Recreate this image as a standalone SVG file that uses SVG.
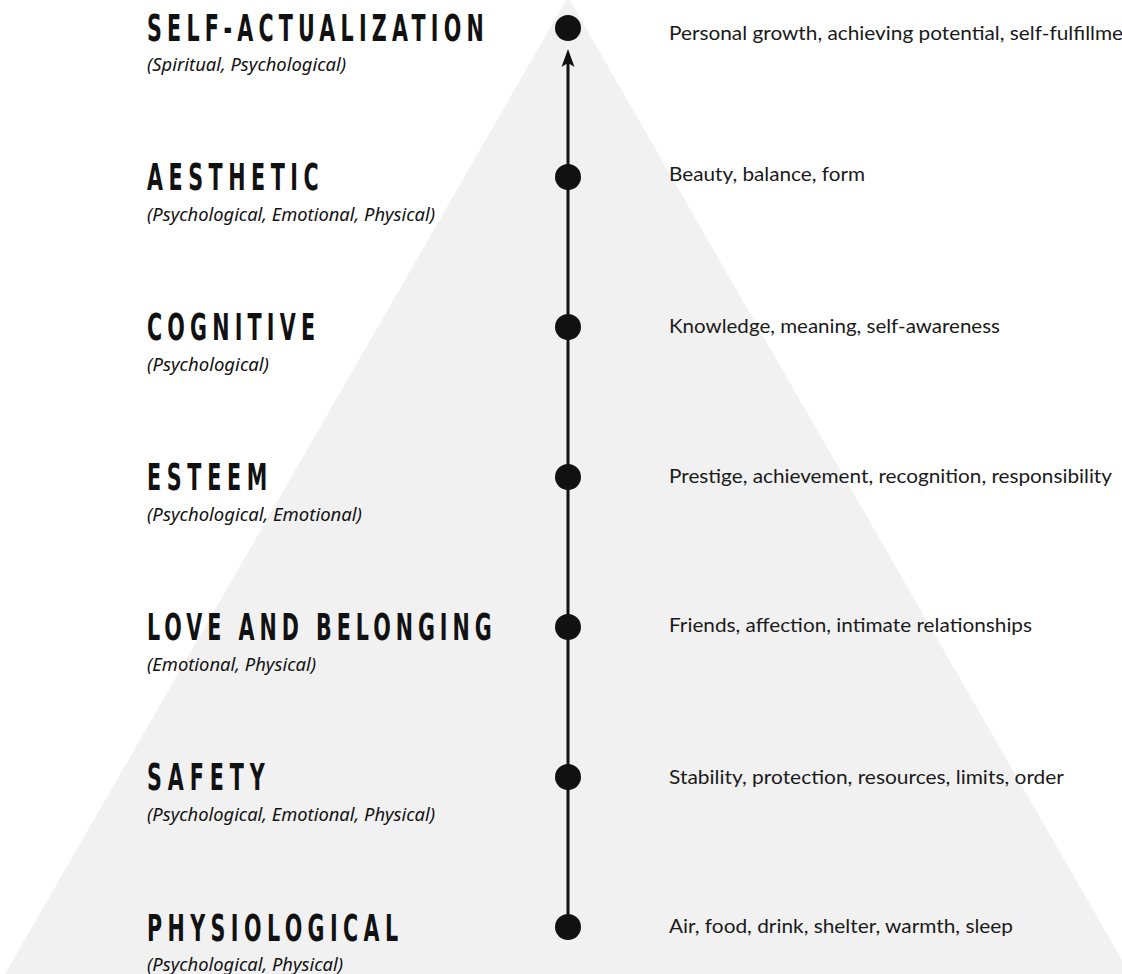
<svg xmlns="http://www.w3.org/2000/svg" width="1122" height="974" viewBox="0 0 1122 974">
<style>
.t{font-family:"DejaVu Sans Condensed","DejaVu Sans",sans-serif;font-weight:bold;font-size:37px;fill:#111}
.s{font-family:"Noto Sans","Open Sans",sans-serif;font-style:italic;font-size:18px;fill:#111}
.d{font-family:Lato,"Open Sans",sans-serif;font-size:20px;fill:#1a1a1a}
.dot{fill:#111}
</style>
<rect width="1122" height="974" fill="#ffffff"/>
<polygon points="568,-3 5,974 1130,974" fill="#f1f1f1"/>
<g id="connectors">
<line x1="568" y1="927" x2="568" y2="60" stroke="#111" stroke-width="3"/>
<polygon points="568,49 574.5,67 568,63 561.5,67" fill="#111"/>
</g>
<g id="self-actualization">
<circle class="dot" cx="568" cy="28" r="13"/>
<text class="t" transform="translate(147 41) scale(0.62 1)" textLength="543" lengthAdjust="spacing">SELF-ACTUALIZATION</text>
<text class="s" x="147" y="71" textLength="199" lengthAdjust="spacingAndGlyphs">(Spiritual, Psychological)</text>
<text class="d" x="669" y="40" textLength="473" lengthAdjust="spacingAndGlyphs">Personal growth, achieving potential, self-fulfillment</text>
</g>
<g id="aesthetic">
<circle class="dot" cx="568" cy="177" r="13"/>
<text class="t" transform="translate(147 190) scale(0.62 1)" textLength="277" lengthAdjust="spacing">AESTHETIC</text>
<text class="s" x="147" y="221" textLength="288" lengthAdjust="spacingAndGlyphs">(Psychological, Emotional, Physical)</text>
<text class="d" x="669" y="181" textLength="196" lengthAdjust="spacingAndGlyphs">Beauty, balance, form</text>
</g>
<g id="cognitive">
<circle class="dot" cx="568" cy="327" r="13"/>
<text class="t" transform="translate(147 340) scale(0.62 1)" textLength="271" lengthAdjust="spacing">COGNITIVE</text>
<text class="s" x="147" y="371" textLength="122" lengthAdjust="spacingAndGlyphs">(Psychological)</text>
<text class="d" x="669" y="333" textLength="331" lengthAdjust="spacingAndGlyphs">Knowledge, meaning, self-awareness</text>
</g>
<g id="esteem">
<circle class="dot" cx="568" cy="477" r="13"/>
<text class="t" transform="translate(147 490) scale(0.62 1)" textLength="194" lengthAdjust="spacing">ESTEEM</text>
<text class="s" x="147" y="521" textLength="215" lengthAdjust="spacingAndGlyphs">(Psychological, Emotional)</text>
<text class="d" x="669" y="483" textLength="443" lengthAdjust="spacingAndGlyphs">Prestige, achievement, recognition, responsibility</text>
</g>
<g id="love-and-belonging">
<circle class="dot" cx="568" cy="627" r="13"/>
<text class="t" transform="translate(147 640) scale(0.62 1)" textLength="556" lengthAdjust="spacing">LOVE AND BELONGING</text>
<text class="s" x="147" y="671" textLength="169" lengthAdjust="spacingAndGlyphs">(Emotional, Physical)</text>
<text class="d" x="669" y="632" textLength="363" lengthAdjust="spacingAndGlyphs">Friends, affection, intimate relationships</text>
</g>
<g id="safety">
<circle class="dot" cx="568" cy="777" r="13"/>
<text class="t" transform="translate(147 790) scale(0.62 1)" textLength="190" lengthAdjust="spacing">SAFETY</text>
<text class="s" x="147" y="821" textLength="288" lengthAdjust="spacingAndGlyphs">(Psychological, Emotional, Physical)</text>
<text class="d" x="669" y="784" textLength="395" lengthAdjust="spacingAndGlyphs">Stability, protection, resources, limits, order</text>
</g>
<g id="physiological">
<circle class="dot" cx="568" cy="927" r="13"/>
<text class="t" transform="translate(147 941) scale(0.62 1)" textLength="405" lengthAdjust="spacing">PHYSIOLOGICAL</text>
<text class="s" x="147" y="971" textLength="196" lengthAdjust="spacingAndGlyphs">(Psychological, Physical)</text>
<text class="d" x="669" y="933" textLength="344" lengthAdjust="spacingAndGlyphs">Air, food, drink, shelter, warmth, sleep</text>
</g>
</svg>
